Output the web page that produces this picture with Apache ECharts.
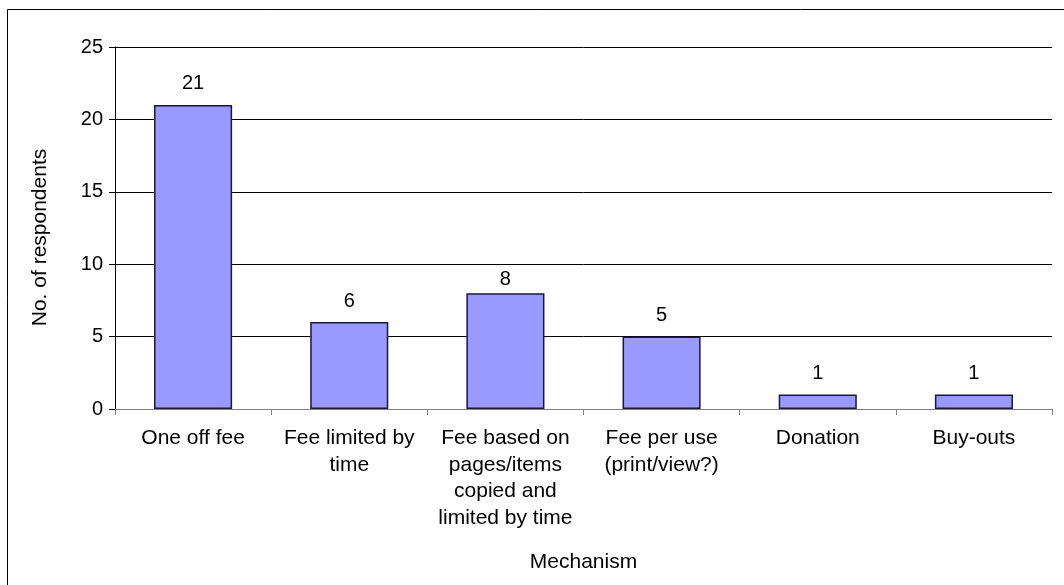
<!DOCTYPE html>
<html><head><meta charset="utf-8">
<script src="https://cdn.jsdelivr.net/npm/echarts@6/dist/echarts.min.js"></script>
<style>html,body{margin:0;padding:0;background:#fff}#c{width:1064px;height:585px}</style>
</head><body><div id="c"></div>
<script>
const categories = ["One off fee", "Fee limited by\ntime", "Fee based on\npages/items\ncopied and\nlimited by time", "Fee per use\n(print/view?)", "Donation", "Buy-outs"];
const values = [21, 6, 8, 5, 1, 1];
const yTicks = [0, 5, 10, 15, 20, 25];
const xTitle = "Mechanism";
const yTitle = "No. of respondents";

const chart = echarts.init(document.getElementById('c'), null, {renderer: 'canvas'});
const font = 'Arial, "Liberation Sans", sans-serif';
const seriesData = values.map((v, i) => i === 2 ? {value: v, label: {distance: 4}} : v);
chart.setOption({
  animation: false,
  backgroundColor: '#fff',
  graphic: [{
    type: 'rect', shape: {x: 7.5, y: 9.5, width: 1200, height: 700},
    style: {fill: 'none', stroke: '#000', lineWidth: 1}, silent: true, z: -1
  }],
  grid: {left: 115, right: 12, top: 47, bottom: 176},
  xAxis: {
    type: 'category', data: categories,
    name: xTitle, nameLocation: 'middle', nameGap: 143,
    nameTextStyle: {fontFamily: font, fontSize: 21, color: '#000'},
    axisLine: {lineStyle: {color: '#808080', width: 1}},
    axisTick: {show: true, length: 6, lineStyle: {color: '#808080'}},
    axisLabel: {fontFamily: font, fontSize: 21, color: '#000', lineHeight: 26.5, margin: 16, interval: 0}
  },
  yAxis: {
    type: 'value', min: 0, max: 25, interval: 5,
    name: yTitle, nameLocation: 'middle', nameGap: 64,
    nameTextStyle: {fontFamily: font, fontSize: 21, color: '#000', padding: [0, 19, 0, 0]},
    axisLine: {show: true, lineStyle: {color: '#000', width: 1}},
    axisTick: {show: true, length: 6, lineStyle: {color: '#000'}},
    axisLabel: {fontFamily: font, fontSize: 20, color: '#000', margin: 12,
      formatter: v => yTicks.includes(v) ? String(v) : ''},
    splitLine: {show: true, lineStyle: {color: '#000', width: 1}}
  },
  series: [{
    type: 'bar', data: seriesData, barWidth: '50%',
    itemStyle: {color: '#9999FF', borderColor: '#1a1a33', borderWidth: 1.5},
    label: {show: true, position: 'top', distance: 11, fontFamily: font, fontSize: 20, color: '#000'}
  }]
});
</script></body></html>
